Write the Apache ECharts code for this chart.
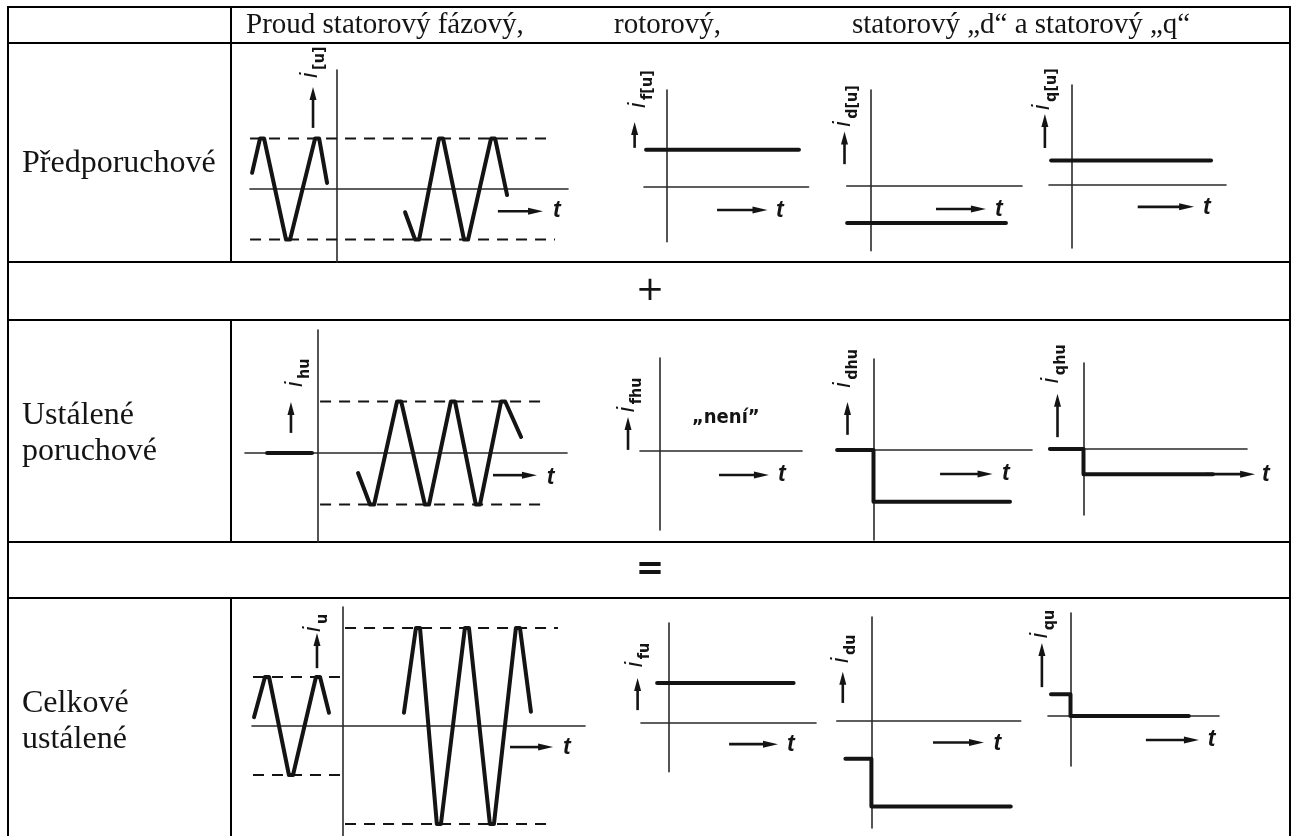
<!DOCTYPE html>
<html>
<head>
<meta charset="utf-8">
<script src="https://cdn.jsdelivr.net/npm/echarts@6/dist/echarts.min.js"></script>
<style>
  html, body { margin: 0; padding: 0; background: #fff; }
  #c { width: 1295px; height: 836px; }
</style>
</head>
<body>
<div id="c"></div>
<script>
// ---- texts ----
const headerTexts = ['Proud statorový fázový,', 'rotorový,', 'statorový „d“ a statorový „q“'];
const rowLabels = [['Předporuchové'], ['Ustálené', 'poruchové'], ['Celkové', 'ustálené']];
const operatorSigns = ['+', '='];
const absentNote = '„není”';

// ---- values: [t (ms), i (p.u.)] ----
// Předporuchové
const iuPreBefore = [[-33.3, 0.32], [-30.2, 1], [-28.6, 1], [-20, -1], [-18.4, -1], [-8.6, 1], [-7, 1], [-3.9, 0.12]];
const iuPreAfter = [[26.7, -0.46], [30.6, -1], [32.2, -1], [40, 1], [41.6, 1], [49.8, -1], [51.4, -1], [60.4, 1], [62, 1], [66.7, -0.12]];
const iuPreEnvTop = [[-34.1, 1], [82.7, 1]];
const iuPreEnvBottom = [[-34.1, -1], [85.5, -1]];
const ifPre = [[-7.9, 1.0], [50.9, 1.0]];
const idPre = [[-9, -1.0], [52.1, -1.0]];
const iqPre = [[-7.8, 0.66], [53.7, 0.66]];

// Ustálené poruchové
const ihuBefore = [[-19.6, 0], [-2.3, 0]];
const ihuAfter = [[15.4, -0.39], [20, -1], [21.6, -1], [30.4, 1], [32, 1], [41.1, -1], [42.7, -1], [51.1, 1], [52.7, 1], [60.7, -1], [62.3, -1], [70.4, 1], [72, 1], [78.1, 0.31]];
const ihuEnvTop = [[0.8, 1], [88, 1]];
const ihuEnvBottom = [[0.8, -1], [88, -1]];
const idhu = [[-14, 0], [0, 0], [0, -1.4], [52.5, -1.4]];
const iqhu = [[-12.9, 0], [0, 0], [0, -0.68], [49.8, -0.68]];

// Celkové ustálené
const iuBefore = [[-34.9, 0.18], [-30.6, 1], [-29, 1], [-21.2, -1], [-19.6, -1], [-10.6, 1], [-9, 1], [-5.5, 0.27]];
const iuAfter = [[23.9, 0.27], [28.6, 2], [30.2, 2], [36.8, -2], [38.4, -2], [47.8, 2], [49.4, 2], [57.6, -2], [59.2, -2], [67.8, 2], [69.4, 2], [73.7, 0.29]];
const iuEnvSmallTop = [[-35.3, 1], [0, 1]];
const iuEnvSmallBottom = [[-35.3, -1], [0, -1]];
const iuEnvBigTop = [[0.8, 2], [84.3, 2]];
const iuEnvBigBottom = [[0.8, -2], [80, -2]];
const ifu = [[-4.5, 1.07], [48, 1.07]];
const idu = [[-10, -1.03], [0, -1.03], [0, -2.32], [53.6, -2.32]];
const iqu = [[-7.5, 0.59], [0, 0.59], [0, 0], [45.5, 0]];

// ---- layout ----
const INK = '#141414';
const table = { left: 8, right: 1290, rows: [7, 43, 262, 320, 542, 598, 836], divider: 231 };

// each panel: pixel box of its axes + origin + scale, curves, annotations in data coords
const panels = [
  { box: { x0: 337, y0: 189, left: 250, right: 568, top: 70, bottom: 262, sx: 2.55, sy: 50.5 },
    solid: [iuPreBefore, iuPreAfter], dashed: [iuPreEnvTop, iuPreEnvBottom],
    up: [-9.4, 1.21, 2.02], tArrow: [63.1, 80.8, -0.44], tText: [84.7, -0.42], label: [-7.8, 2.2, '[u]'] },
  { box: { x0: 666.6, y0: 186.7, left: 644, right: 808.6, top: 90, bottom: 241.7, sx: 2.6, sy: 37 },
    solid: [ifPre], dashed: [],
    up: [-12.3, 1.05, 1.75], tArrow: [19.4, 38.8, -0.63], tText: [42.1, -0.65], label: [-8.3, 2.13, 'f[u]'] },
  { box: { x0: 870.5, y0: 186, left: 846.7, right: 1022, top: 90, bottom: 250.7, sx: 2.6, sy: 37 },
    solid: [idPre], dashed: [],
    up: [-10, 0.59, 1.47], tArrow: [25.2, 44.4, -0.62], tText: [47.9, -0.65], label: [-7.9, 1.6, 'd[u]'] },
  { box: { x0: 1071.4, y0: 185, left: 1049, right: 1226, top: 85, bottom: 248, sx: 2.6, sy: 37 },
    solid: [iqPre], dashed: [],
    up: [-10.2, 1.0, 1.92], tArrow: [25.5, 47.2, -0.59], tText: [50.6, -0.62], label: [-8.6, 2.03, 'q[u]'] },

  { box: { x0: 318, y0: 453, left: 245, right: 567, top: 330, bottom: 542, sx: 2.6, sy: 51.5 },
    solid: [ihuBefore, ihuAfter], dashed: [ihuEnvTop, ihuEnvBottom],
    up: [-10.4, 0.39, 0.99], tArrow: [67.3, 84.2, -0.43], tText: [88, -0.47], label: [-6.2, 1.28, 'hu'] },
  { box: { x0: 660, y0: 451, left: 640, right: 802, top: 358, bottom: 530, sx: 2.6, sy: 37 },
    solid: [], dashed: [],
    up: [-12.3, 0.03, 0.92], tArrow: [22.7, 41.9, -0.65], tText: [45.4, -0.65], label: [-10, 1.05, 'fhu'],
    note: [12.3, 0.89] },
  { box: { x0: 873.5, y0: 450, left: 837, right: 1032, top: 359, bottom: 540, sx: 2.6, sy: 37 },
    solid: [idhu], dashed: [],
    up: [-10, 0.41, 1.3], tArrow: [25.6, 45.8, -0.65], tText: [49.4, -0.65], label: [-9, 1.68, 'dhu'] },
  { box: { x0: 1083.5, y0: 449, left: 1050, right: 1247, top: 363, bottom: 515, sx: 2.6, sy: 37 },
    solid: [iqhu], dashed: [],
    up: [-10, 0.32, 1.49], tArrow: [46.7, 66, -0.68], tText: [68.7, -0.7], label: [-9.8, 1.78, 'qhu'] },

  { box: { x0: 343, y0: 726, left: 252, right: 585, top: 607, bottom: 836, sx: 2.55, sy: 49 },
    solid: [iuBefore, iuAfter], dashed: [iuEnvSmallTop, iuEnvSmallBottom, iuEnvBigTop, iuEnvBigBottom],
    up: [-10.2, 1.18, 1.9], tArrow: [65.5, 82.4, -0.43], tText: [86.3, -0.45], label: [-9, 1.92, 'u'] },
  { box: { x0: 668.8, y0: 722.7, left: 641, right: 816, top: 623, bottom: 771.7, sx: 2.6, sy: 37 },
    solid: [ifu], dashed: [],
    up: [-12, 0.34, 1.21], tArrow: [23.2, 42, -0.58], tText: [45.5, -0.6], label: [-10.3, 1.5, 'fu'] },
  { box: { x0: 871.4, y0: 720.7, left: 836.8, right: 1020.7, top: 617, bottom: 828, sx: 2.6, sy: 37 },
    solid: [idu], dashed: [],
    up: [-11, 0.48, 1.32], tArrow: [23.7, 43.3, -0.59], tText: [47, -0.62], label: [-9, 1.56, 'du'] },
  { box: { x0: 1070.5, y0: 716, left: 1048, right: 1219, top: 613, bottom: 766, sx: 2.6, sy: 37 },
    solid: [iqu], dashed: [],
    up: [-11, 0.78, 1.97], tArrow: [29, 49.4, -0.65], tText: [52.8, -0.65], label: [-9, 2.1, 'qu'] }
];

const grids = [], xAxes = [], yAxes = [], series = [];
const axisLine = { show: true, onZero: true, lineStyle: { color: '#2a2a2a', width: 1.6 } };

panels.forEach((p, k) => {
  const b = p.box;
  grids.push({ left: b.left, top: b.top, width: b.right - b.left, height: b.bottom - b.top, containLabel: false });
  xAxes.push({ type: 'value', gridIndex: k, min: (b.left - b.x0) / b.sx, max: (b.right - b.x0) / b.sx,
    axisLine, axisTick: { show: false }, axisLabel: { show: false }, splitLine: { show: false } });
  yAxes.push({ type: 'value', gridIndex: k, min: -(b.bottom - b.y0) / b.sy, max: (b.y0 - b.top) / b.sy,
    axisLine, axisTick: { show: false }, axisLabel: { show: false }, splitLine: { show: false } });
  p.dashed.forEach(d => series.push({
    type: 'line', xAxisIndex: k, yAxisIndex: k, data: d, symbol: 'none', clip: false, silent: true,
    lineStyle: { color: INK, width: 2, type: [11, 8] }
  }));
  p.solid.forEach(d => series.push({
    type: 'line', xAxisIndex: k, yAxisIndex: k, data: d, symbol: 'none', clip: false, silent: true,
    lineStyle: { color: INK, width: 4, cap: 'round', join: 'round' }
  }));
});

const chart = echarts.init(document.getElementById('c'), null, { renderer: 'canvas' });
chart.setOption({
  animation: false,
  backgroundColor: '#fff',
  grid: grids, xAxis: xAxes, yAxis: yAxes, series
});

// ---- table frame, texts and annotations ----
const g = [];
const serif = '"Liberation Serif", "Times New Roman", serif';
function hLine(y, x1, x2) { g.push({ type: 'line', shape: { x1, y1: y, x2, y2: y }, style: { stroke: '#000', lineWidth: 2 } }); }
function vLine(x, y1, y2) { g.push({ type: 'line', shape: { x1: x, y1, x2: x, y2 }, style: { stroke: '#000', lineWidth: 2 } }); }
function text(x, y, s, font, align, valign, extra) {
  return Object.assign({ type: 'text', x, y, style: { text: s, font, fill: INK, align, verticalAlign: valign, textAlign: align, textVerticalAlign: valign } }, extra || {});
}

const R = table.rows;
R.slice(0, 6).forEach(y => hLine(y, table.left - 1, table.right + 1));
vLine(table.left, R[0], R[6]);
vLine(table.right, R[0], R[6]);
vLine(table.divider, R[0], R[2]);
vLine(table.divider, R[3], R[4]);
vLine(table.divider, R[5], R[6]);

const headerX = [246, 614, 852];
headerTexts.forEach((s, i) => g.push(text(headerX[i], 25, s, '29px ' + serif, 'left', 'middle')));
const labelY = [[164], [416, 452], [704, 740]];
rowLabels.forEach((lines, r) => lines.forEach((s, j) => g.push(text(22, labelY[r][j], s, '32px ' + serif, 'left', 'middle'))));
g.push(text(650, 291, operatorSigns[0], '34px "DejaVu Sans"', 'center', 'middle'));
g.push(text(650, 570, operatorSigns[1], 'bold 34px "DejaVu Sans"', 'center', 'middle'));

function arrow(p1, p2, hl, hw, w) {
  const dx = p2[0] - p1[0], dy = p2[1] - p1[1], L = Math.hypot(dx, dy), ux = dx / L, uy = dy / L;
  const bx = p2[0] - ux * hl, by = p2[1] - uy * hl;
  g.push({ type: 'line', shape: { x1: p1[0], y1: p1[1], x2: bx + ux * 2, y2: by + uy * 2 }, style: { stroke: INK, lineWidth: w } });
  g.push({ type: 'polygon', shape: { points: [[p2[0], p2[1]], [bx - uy * hw / 2, by + ux * hw / 2], [bx + uy * hw / 2, by - ux * hw / 2]] }, style: { fill: INK } });
}

panels.forEach((p, k) => {
  const px = v => chart.convertToPixel({ gridIndex: k }, v);
  arrow(px([p.up[0], p.up[1]]), px([p.up[0], p.up[2]]), 13, 7, 2.6);
  arrow(px([p.tArrow[0], p.tArrow[2]]), px([p.tArrow[1], p.tArrow[2]]), 15, 7, 2.6);
  const tp = px(p.tText);
  g.push(text(tp[0], tp[1], 't', 'italic bold 23px "Liberation Sans"', 'left', 'middle'));
  const lp = px([p.label[0], p.label[1]]);
  g.push({
    type: 'group', x: lp[0], y: lp[1], rotation: Math.PI / 2,
    children: [
      text(0, 5, 'i', 'italic 24px "Liberation Sans"', 'left', 'bottom'),
      text(8, 11, p.label[2], 'bold 16px "DejaVu Sans Condensed", "DejaVu Sans"', 'left', 'bottom')
    ]
  });
  if (p.note) {
    const np = px(p.note);
    g.push(text(np[0], np[1], absentNote, 'bold 20px "DejaVu Sans Condensed", "DejaVu Sans"', 'left', 'middle'));
  }
});

chart.setOption({ graphic: { elements: g } });
</script>
</body>
</html>
